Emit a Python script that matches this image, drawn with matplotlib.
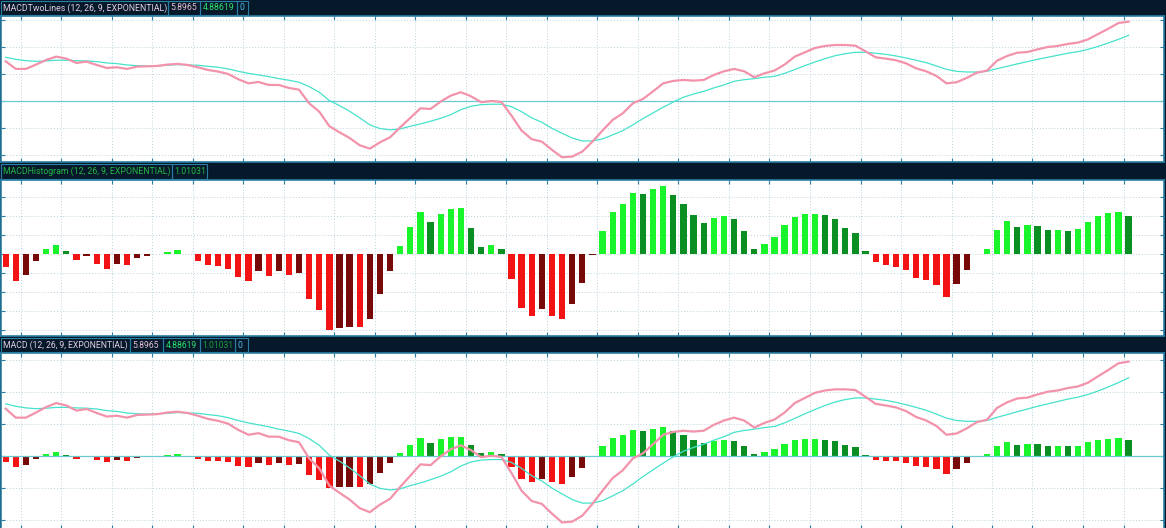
import matplotlib
matplotlib.use("Agg")
import matplotlib.pyplot as plt
from matplotlib.patches import Rectangle
import numpy as np

# MACD line (pink), signal line (cyan), histogram
macd = [2.96, 2.40, 2.40, 2.72, 3.06, 3.31, 3.16, 2.84, 2.94, 2.69, 2.47, 2.52, 2.40, 2.57,
        2.59, 2.62, 2.72, 2.77, 2.69, 2.52, 2.32, 2.20, 2.02, 1.63, 1.33, 1.43, 1.21, 1.21,
        0.99, 0.86, -0.15, -0.77, -1.85, -2.30, -2.72, -3.26, -3.51, -3.04,
        -2.67, -1.93, -1.23, -0.52, -0.57, -0.02, 0.42, 0.67, 0.37, -0.07, 0.02, -0.05,
        -1.06, -2.17, -2.81, -2.99, -3.60, -4.15, -4.10, -3.73, -2.99, -2.17, -1.38, -0.89,
        -0.15, 0.17, 0.74, 1.33, 1.51, 1.58, 1.53, 1.58, 1.95, 2.22, 2.40, 2.22, 1.78, 2.07,
        2.28, 2.72, 3.31, 3.63, 3.95, 4.10, 4.17, 4.17, 4.12, 3.70, 3.26, 3.16, 3.04, 2.81,
        2.44, 2.22, 1.88, 1.33, 1.41, 1.73, 2.12, 2.27, 3.01, 3.36, 3.60, 3.65, 3.85, 4.02,
        4.10, 4.25, 4.35, 4.59, 4.99, 5.38, 5.80, 5.90]

signal = [3.26, 3.11, 3.01, 2.96, 2.99, 3.04, 3.04, 3.01, 2.99, 2.94, 2.84, 2.79, 2.69, 2.64,
          2.62, 2.64, 2.67, 2.72, 2.69, 2.67, 2.59, 2.52, 2.40, 2.22, 2.07, 1.95, 1.83, 1.68,
          1.56, 1.41, 1.09, 0.67, 0.05, -0.32, -0.74, -1.23, -1.75, -2.02,
          -2.12, -2.05, -1.85, -1.68, -1.48, -1.26, -0.99, -0.62, -0.37, -0.25, -0.22, -0.22,
          -0.40, -0.77, -1.23, -1.56, -2.00, -2.37, -2.72, -2.94, -2.94, -2.79, -2.49, -2.17,
          -1.75, -1.28, -0.86, -0.44, -0.05, 0.30, 0.54, 0.74, 0.99, 1.21, 1.48, 1.60, 1.68, 1.78,
          1.85, 2.07, 2.35, 2.64, 2.91, 3.16, 3.38, 3.53, 3.63, 3.63, 3.56, 3.48, 3.36, 3.21,
          3.04, 2.86, 2.62, 2.37, 2.22, 2.17, 2.17, 2.22, 2.42, 2.59, 2.77, 2.94, 3.11, 3.26,
          3.41, 3.56, 3.68, 3.85, 4.07, 4.32, 4.59, 4.89]

hist = [-0.35, -0.70, -0.55, -0.18, 0.12, 0.25, 0.08, -0.16, -0.04, -0.27, -0.39, -0.25, -0.30,
        -0.10, -0.05, 0.0, 0.05, 0.11, 0.0, -0.18, -0.29, -0.31, -0.39, -0.61, -0.71, -0.45,
        -0.57, -0.45, -0.55, -0.50, -1.19, -1.48, -2.00, -1.96, -1.91, -1.93, -1.72, -1.05, -0.45,
        0.22, 0.70, 1.11, 0.84, 1.06, 1.18, 1.20, 0.68, 0.18, 0.25, 0.13, -0.67, -1.41, -1.62,
        -1.46, -1.62, -1.72, -1.31, -0.77, -0.03,
        0.61, 1.11, 1.31, 1.61, 1.59, 1.71, 1.79, 1.56, 1.31, 1.03, 0.82, 0.96, 0.99, 0.92,
        0.60, 0.13, 0.26, 0.46, 0.77, 0.98, 1.05, 1.06, 1.03, 0.92, 0.68, 0.56, 0.08,
        -0.22, -0.29, -0.33, -0.43, -0.63, -0.68, -0.82, -1.14, -0.80, -0.41, 0.0, 0.12, 0.63,
        0.87, 0.70, 0.77, 0.75, 0.63, 0.64, 0.61, 0.65, 0.85, 1.00, 1.09, 1.10, 1.01]

# weekly separators (between bars)
week_lines = [1.5, 5.5, 10.5, 14.5, 18.5, 23.5, 27.5, 32.5, 36.5, 40.5, 45.5, 49.5, 53.5,
              58.5, 62.5, 66.5, 71.5, 75.5, 79.5, 84.5, 88.5, 93.5, 97.5, 101.5, 106.5, 110.5]

W, H = 1166, 528
BG = "#06192a"
FRAME = "#2a7ea3"
PINK = "#f293ab"
CYAN = "#46e2cc"
ZERO = "#6cc9d2"
GRID = "#b9d3dc"
C_UP = "#19f52a"
C_UP_WEAK = "#0c8f22"
C_DN = "#f21414"
C_DN_WEAK = "#780909"

x = np.arange(len(macd))


def bar_colors(h):
    cols = []
    prev = 0.0
    for v in h:
        if v >= 0:
            cols.append(C_UP if v >= prev else C_UP_WEAK)
        else:
            cols.append(C_DN_WEAK if v > prev else C_DN)
        prev = v
    return cols


fig = plt.figure(figsize=(W / 100, H / 100), dpi=100, facecolor=BG)


def px_axes(x0, y0, x1, y1):
    return fig.add_axes([x0 / W, 1 - y1 / H, (x1 - x0) / W, (y1 - y0) / H])


def style(ax, yticks, ylim):
    ax.set_facecolor("white")
    ax.set_xlim(-0.46, 114.5)
    ax.set_ylim(*ylim)
    ax.set_xticks(week_lines)
    ax.set_yticks(yticks)
    ax.grid(True, color=GRID, linestyle=(0, (1, 2)), linewidth=0.7)
    ax.tick_params(direction="in", length=3, color=FRAME, labelleft=False, labelbottom=False,
                   top=True, right=True)
    for s in ax.spines.values():
        s.set_color(FRAME)
        s.set_linewidth(1.2)
    ax.set_axisbelow(True)


cols = bar_colors(hist)

# top: two lines
ax1 = px_axes(1, 16, 1164, 162)
style(ax1, [-4, -2, 0, 2, 4, 6], (-4.5, 6.32))
ax1.axhline(0, color=ZERO, lw=0.9)
ax1.plot(x, signal, color=CYAN, lw=0.9)
ax1.plot(x, macd, color=PINK, lw=1.6)

# middle: histogram
ax2 = px_axes(1, 180, 1164, 336)
style(ax2, [-2, -1.5, -1, -0.5, 0, 0.5, 1, 1.5], (-2.16, 1.95))
ax2.bar(x, hist, width=0.62, color=cols)

# bottom: combined
ax3 = px_axes(1, 353, 1164, 529)
style(ax3, [-4, -2, 0, 2, 4, 6], (-4.56, 6.44))
ax3.axhline(0, color=ZERO, lw=0.9)
ax3.bar(x, hist, width=0.62, color=cols)
ax3.plot(x, signal, color=CYAN, lw=0.9)
ax3.plot(x, macd, color=PINK, lw=1.6)

fig.canvas.draw()
renderer = fig.canvas.get_renderer()


def header(y0, y1, items):
    # items: (text, color, x_left, x_right); the title sets the font size for the row
    size = None
    for text, color, xl, xr in items:
        fig.patches.append(Rectangle((xl / W, 1 - y1 / H), (xr - xl) / W, (y1 - y0) / H,
                                     transform=fig.transFigure, facecolor="none",
                                     edgecolor=FRAME, lw=0.8))
        t = fig.text((xl + 2.5) / W, 1 - (y0 + y1) / 2 / H, text, color=color,
                     fontsize=size or 7.5, family="Roboto", va="center", ha="left")
        if size is None:
            width = t.get_window_extent(renderer).width
            size = 7.5 * min(1.0, ((xr - xl) - 5) / width)
            t.set_fontsize(size)


header(1, 15, [("MACDTwoLines (12, 26, 9, EXPONENTIAL)", "#e3cde3", 0.5, 168),
               ("5.8965", "#e8bfd2", 168, 200),
               ("4.88619", "#2de06e", 200, 237),
               ("0", "#4cb7e6", 237, 248)])
header(164, 179, [("MACDHistogram (12, 26, 9, EXPONENTIAL)", "#23b544", 0.5, 172),
                  ("1.01031", "#23b544", 172, 207)])
header(338, 352, [("MACD (12, 26, 9, EXPONENTIAL)", "#e3cde3", 0.5, 130),
                  ("5.8965", "#e8bfd2", 130, 163),
                  ("4.88619", "#2de06e", 163, 200),
                  ("1.01031", "#1d9c38", 200, 235),
                  ("0", "#4cb7e6", 235, 248)])

fig.savefig("out.png", dpi=100, facecolor=BG)
